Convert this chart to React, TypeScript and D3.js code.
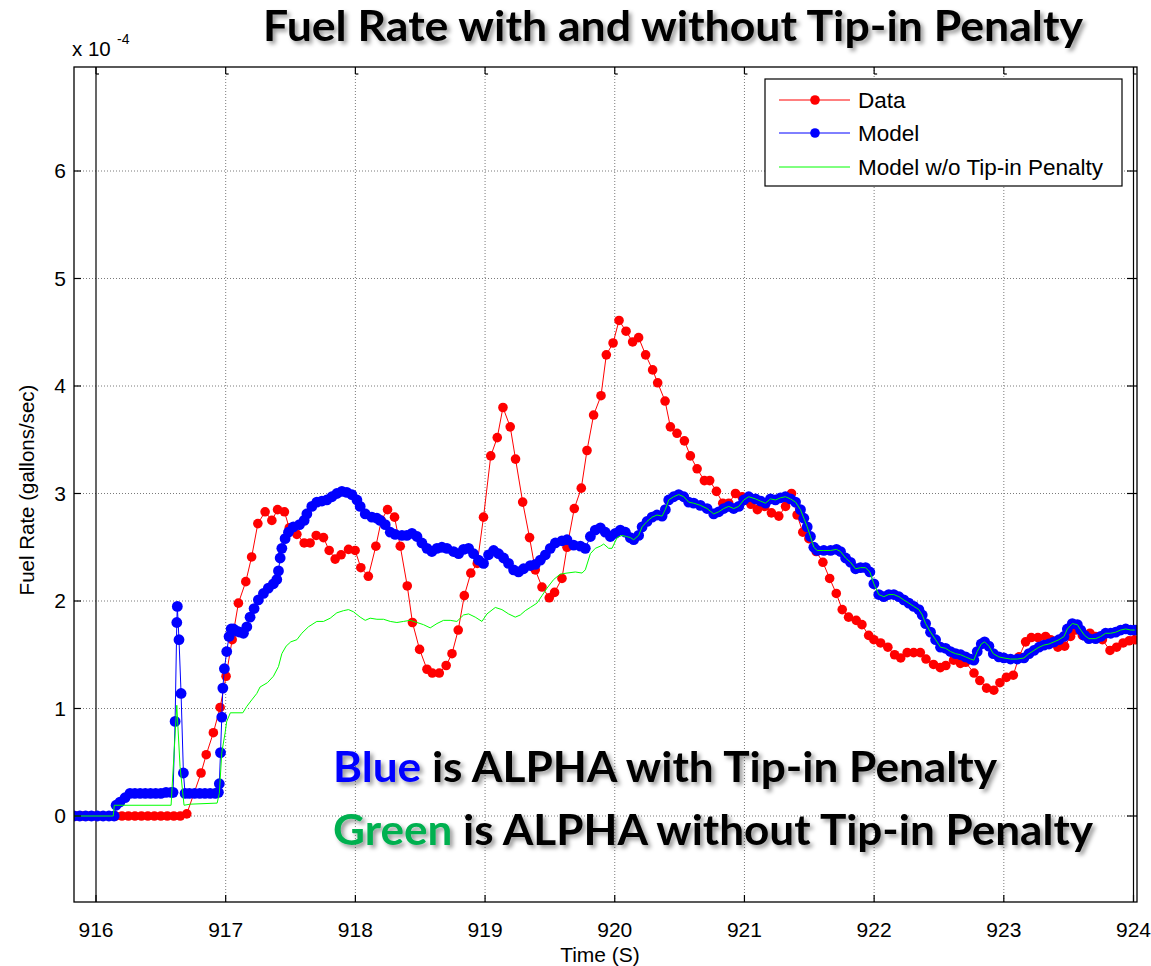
import React from 'react';
import * as d3 from 'd3';

type P = [number, number];

const xTicks = [916, 917, 918, 919, 920, 921, 922, 923, 924];
const yTicks = [0, 1, 2, 3, 4, 5, 6];
const legendLabels = ['Data', 'Model', 'Model w/o Tip-in Penalty'];
const titleText = 'Fuel Rate with and without Tip-in Penalty';

// Measured data (red), values in 1e-4 gallons/sec
const dataSeries: P[] = [
  [915.85, 0], [915.9, 0], [915.95, 0], [916.0, 0], [916.05, 0], [916.1, 0],
  [916.15, 0], [916.2, 0], [916.25, 0], [916.3, 0], [916.35, 0], [916.4, 0], [916.45, 0], [916.5, 0],
  [916.55, 0], [916.6, 0], [916.65, 0], [916.7, 0.02],
  [916.81, 0.4], [916.85, 0.57], [916.905, 0.775], [916.957, 1.01], [917.003, 1.3], [917.05, 1.64],
  [917.098, 1.98], [917.155, 2.18], [917.2, 2.41], [917.248, 2.72], [917.304, 2.83], [917.356, 2.75],
  [917.4, 2.85], [917.453, 2.83], [917.49, 2.68], [917.549, 2.62], [917.605, 2.54], [917.651, 2.54],
  [917.698, 2.61], [917.754, 2.59], [917.798, 2.47], [917.844, 2.39], [917.89, 2.43], [917.947, 2.48],
  [917.998, 2.47], [918.042, 2.31], [918.1, 2.23], [918.158, 2.51], [918.2, 2.75], [918.248, 2.85],
  [918.302, 2.78], [918.346, 2.51], [918.4, 2.14], [918.44, 1.8], [918.495, 1.55], [918.552, 1.365],
  [918.593, 1.33], [918.647, 1.33], [918.7, 1.4], [918.745, 1.51], [918.793, 1.73], [918.84, 2.05],
  [918.89, 2.26], [918.94, 2.35], [918.988, 2.78], [919.044, 3.35], [919.094, 3.52], [919.138, 3.8],
  [919.194, 3.62], [919.235, 3.32], [919.29, 2.92], [919.343, 2.59], [919.387, 2.29], [919.439, 2.13],
  [919.495, 2.03], [919.536, 2.08], [919.593, 2.21], [919.632, 2.5], [919.688, 2.86], [919.742, 3.05],
  [919.786, 3.4], [919.837, 3.73], [919.894, 3.91], [919.935, 4.29], [919.987, 4.4], [920.033, 4.61],
  [920.087, 4.51], [920.138, 4.41], [920.184, 4.45], [920.238, 4.29], [920.292, 4.15], [920.331, 4.03],
  [920.388, 3.86], [920.429, 3.62], [920.48, 3.56], [920.537, 3.49], [920.583, 3.35], [920.635, 3.23],
  [920.691, 3.12], [920.732, 3.12], [920.784, 3.02], [920.833, 2.91], [920.879, 2.91], [920.931, 3.0],
  [920.982, 2.97], [921.05, 2.9], [921.1, 2.85], [921.157, 2.88], [921.208, 2.82], [921.265, 2.79],
  [921.317, 2.88], [921.363, 3.0], [921.406, 2.8], [921.45, 2.64], [921.497, 2.58], [921.553, 2.46],
  [921.605, 2.36], [921.657, 2.21], [921.708, 2.07], [921.754, 1.92], [921.803, 1.85], [921.862, 1.82],
  [921.906, 1.78], [921.958, 1.68], [921.998, 1.64], [922.05, 1.61], [922.106, 1.57], [922.158, 1.5],
  [922.205, 1.47], [922.255, 1.52], [922.305, 1.52], [922.356, 1.52], [922.4, 1.46], [922.458, 1.41],
  [922.51, 1.38], [922.553, 1.4], [922.613, 1.45], [922.665, 1.42], [922.705, 1.43], [922.77, 1.33],
  [922.815, 1.26], [922.867, 1.19], [922.923, 1.17], [922.97, 1.24], [923.02, 1.29], [923.073, 1.31],
  [923.117, 1.48], [923.168, 1.62], [923.212, 1.66], [923.263, 1.66], [923.322, 1.67], [923.361, 1.64],
  [923.417, 1.57], [923.469, 1.58], [923.515, 1.67], [923.554, 1.73], [923.606, 1.68], [923.664, 1.7],
  [923.708, 1.67], [923.76, 1.64], [923.819, 1.54], [923.87, 1.57], [923.92, 1.61], [923.966, 1.63],
  [924.01, 1.64],
];

// Model with tip-in penalty (blue)
const modelSeries: P[] = [
  [915.83, 0], [915.875, 0], [915.92, 0], [915.965, 0], [916.01, 0], [916.055, 0], [916.1, 0], [916.14, 0],
  [916.155, 0.1], [916.185, 0.13], [916.224, 0.17], [916.262, 0.21], [916.3, 0.21], [916.34, 0.21],
  [916.38, 0.21], [916.42, 0.21], [916.46, 0.21], [916.5, 0.21], [916.54, 0.22], [916.58, 0.22],
  [916.594, 0.22], [916.61, 0.88], [916.623, 1.8], [916.627, 1.95], [916.64, 1.64], [916.656, 1.14],
  [916.674, 0.4], [916.687, 0.21], [916.72, 0.21], [916.76, 0.21], [916.8, 0.21], [916.84, 0.21],
  [916.88, 0.21], [916.92, 0.21], [916.944, 0.22], [916.951, 0.3], [916.96, 0.59], [916.97, 0.92],
  [916.978, 1.19], [916.99, 1.37], [917.008, 1.53], [917.026, 1.67], [917.042, 1.74], [917.06, 1.74],
  [917.086, 1.72], [917.11, 1.71], [917.137, 1.7], [917.163, 1.76], [917.188, 1.85], [917.219, 1.93],
  [917.252, 2.01], [917.291, 2.07], [917.329, 2.12], [917.368, 2.16], [917.394, 2.2], [917.407, 2.28],
  [917.42, 2.4], [917.433, 2.49], [917.458, 2.58], [917.484, 2.64], [917.522, 2.69], [917.569, 2.71],
  [917.605, 2.75], [917.626, 2.81], [917.664, 2.88], [917.703, 2.92], [917.742, 2.93], [917.78, 2.94],
  [917.819, 2.97], [917.857, 3.0], [917.896, 3.02], [917.934, 3.01], [917.973, 2.99], [918.012, 2.94],
  [918.037, 2.88], [918.076, 2.81], [918.127, 2.78], [918.166, 2.77], [918.191, 2.75], [918.23, 2.71],
  [918.269, 2.64], [918.307, 2.62], [918.359, 2.61], [918.397, 2.61], [918.436, 2.63], [918.475, 2.6],
  [918.513, 2.54], [918.552, 2.49], [918.59, 2.46], [918.629, 2.49], [918.667, 2.5], [918.706, 2.49],
  [918.757, 2.46], [918.796, 2.44], [918.834, 2.48], [918.873, 2.49], [918.911, 2.44], [918.95, 2.38],
  [918.988, 2.35], [919.027, 2.43], [919.066, 2.47], [919.104, 2.44], [919.143, 2.4], [919.181, 2.35],
  [919.22, 2.29], [919.258, 2.27], [919.297, 2.3], [919.349, 2.33], [919.387, 2.34], [919.426, 2.38],
  [919.465, 2.43], [919.503, 2.49], [919.542, 2.54], [919.593, 2.56], [919.632, 2.57], [919.683, 2.52],
  [919.735, 2.51], [919.773, 2.49], [919.812, 2.6], [919.85, 2.66], [919.889, 2.68], [919.927, 2.64],
  [919.966, 2.6], [920.005, 2.63], [920.043, 2.66], [920.082, 2.64], [920.12, 2.59], [920.146, 2.57],
  [920.184, 2.61], [920.211, 2.69], [920.249, 2.74], [920.288, 2.78], [920.326, 2.8], [920.365, 2.79],
  [920.39, 2.85], [920.416, 2.94], [920.454, 2.97], [920.493, 2.99], [920.532, 2.97], [920.57, 2.92],
  [920.609, 2.91], [920.66, 2.89], [920.712, 2.86], [920.763, 2.81], [920.802, 2.83], [920.84, 2.86],
  [920.879, 2.88], [920.917, 2.86], [920.956, 2.88], [920.995, 2.94], [921.033, 2.97], [921.085, 2.95],
  [921.123, 2.93], [921.162, 2.91], [921.201, 2.95], [921.239, 2.94], [921.278, 2.96], [921.316, 2.97],
  [921.355, 2.95], [921.394, 2.92], [921.432, 2.85], [921.458, 2.77], [921.484, 2.69], [921.509, 2.6],
  [921.535, 2.5], [921.561, 2.47], [921.612, 2.47], [921.664, 2.47], [921.71, 2.48], [921.741, 2.46],
  [921.78, 2.4], [921.818, 2.36], [921.857, 2.3], [921.895, 2.31], [921.934, 2.31], [921.967, 2.27],
  [921.998, 2.16], [922.036, 2.06], [922.075, 2.04], [922.113, 2.06], [922.152, 2.06], [922.191, 2.04],
  [922.229, 2.01], [922.268, 1.98], [922.306, 1.95], [922.345, 1.92], [922.371, 1.87], [922.397, 1.79],
  [922.435, 1.71], [922.474, 1.64], [922.512, 1.57], [922.551, 1.56], [922.589, 1.53], [922.628, 1.51],
  [922.667, 1.5], [922.705, 1.48], [922.744, 1.46], [922.769, 1.45], [922.795, 1.53], [922.826, 1.6],
  [922.852, 1.62], [922.885, 1.58], [922.919, 1.51], [922.962, 1.48], [923.001, 1.47], [923.052, 1.46],
  [923.104, 1.46], [923.155, 1.47], [923.194, 1.51], [923.232, 1.54], [923.271, 1.57], [923.309, 1.59],
  [923.348, 1.6], [923.387, 1.62], [923.425, 1.64], [923.464, 1.67], [923.49, 1.74], [923.528, 1.79],
  [923.567, 1.78], [923.593, 1.73], [923.623, 1.68], [923.656, 1.65], [923.708, 1.65], [923.747, 1.67],
  [923.785, 1.7], [923.824, 1.7], [923.863, 1.71], [923.901, 1.73], [923.94, 1.74], [923.978, 1.73],
  [924.01, 1.73],
];

// Model without tip-in penalty (green); after ~920.1 s it coincides with the blue model
const noPenaltyEarly: P[] = [
  [915.83, 0], [916.133, 0], [916.141, 0.1], [916.579, 0.1], [916.623, 1.03], [916.648, 0.46],
  [916.679, 0.1], [916.725, 0.11], [916.934, 0.12], [916.951, 0.21], [916.97, 0.59], [916.995, 0.77],
  [917.008, 0.88], [917.036, 0.96], [917.132, 0.96], [917.163, 1.02], [917.201, 1.08], [917.24, 1.14],
  [917.265, 1.2], [917.322, 1.24], [917.368, 1.3], [917.407, 1.39], [917.433, 1.51], [917.466, 1.58],
  [917.502, 1.62], [917.549, 1.64], [917.587, 1.7], [917.638, 1.76], [917.703, 1.81], [917.754, 1.81],
  [917.806, 1.84], [917.857, 1.89], [917.908, 1.91], [917.947, 1.92], [917.985, 1.9], [918.037, 1.85],
  [918.076, 1.82], [918.114, 1.84], [918.166, 1.83], [918.217, 1.83], [918.269, 1.81], [918.32, 1.8],
  [918.371, 1.81], [918.423, 1.82], [918.475, 1.8], [918.525, 1.78], [918.577, 1.75], [918.629, 1.79],
  [918.68, 1.82], [918.731, 1.82], [918.783, 1.81], [918.834, 1.87], [918.873, 1.88], [918.924, 1.85],
  [918.976, 1.81], [919.015, 1.88], [919.079, 1.94], [919.13, 1.92], [919.181, 1.88], [919.233, 1.85],
  [919.272, 1.87], [919.31, 1.91], [919.349, 1.94], [919.4, 1.98], [919.439, 2.05], [919.478, 2.12],
  [919.529, 2.2], [919.58, 2.25], [919.632, 2.26], [919.696, 2.27], [919.748, 2.26], [919.773, 2.29],
  [919.812, 2.44], [919.85, 2.49], [919.889, 2.51], [919.915, 2.53], [919.953, 2.49], [919.979, 2.49],
  [920.018, 2.59], [920.056, 2.61], [920.09, 2.6],
];
const noPenaltySeries: P[] = [...noPenaltyEarly, ...modelSeries.filter((d) => d[0] >= 920.12)];

const RED = '#ff0000';
const BLUE = '#0000ff';
const LIME = '#00ff00';
const SANS = '"Liberation Sans", Arial, sans-serif';
const BOLD = 'Lato, "Open Sans", sans-serif';

export default function App() {
  const W = 1151;
  const H = 966;
  const box = { left: 74, right: 1137, top: 67, bottom: 902 };
  const x = d3.scaleLinear().domain([916, 924]).range([96, 1133.5]);
  const y = d3.scaleLinear().domain([0, 6]).range([816, 171]);
  const line = d3
    .line<P>()
    .x((d) => x(d[0]))
    .y((d) => y(d[1]));
  const rRed = 4.8;
  const rBlue = 5.4;

  const legend = { x: 765, y: 79, w: 357, h: 107 };
  const legendRows = [
    { label: legendLabels[0], color: RED, marker: true, yy: 100 },
    { label: legendLabels[1], color: BLUE, marker: true, yy: 133 },
    { label: legendLabels[2], color: LIME, marker: false, yy: 167 },
  ];

  return (
    <svg
      width={W}
      height={H}
      style={{ position: 'absolute', left: 0, top: 0, background: '#fff' }}
      xmlns="http://www.w3.org/2000/svg"
    >
      <defs>
        <clipPath id="plotClip">
          <rect x={box.left} y={box.top} width={box.right - box.left} height={box.bottom - box.top} />
        </clipPath>
        <filter id="shadow" x="-5%" y="-30%" width="110%" height="170%">
          <feDropShadow dx="3" dy="3" stdDeviation="2" floodColor="#000" floodOpacity="0.4" />
        </filter>
      </defs>
      <rect x={0} y={0} width={W} height={H} fill="#fff" />

      {/* grid */}
      <g stroke="#7a7a7a" strokeWidth={1} strokeDasharray="1,2">
        {xTicks.slice(1, -1).map((t) => (
          <line key={'gx' + t} x1={x(t)} x2={x(t)} y1={box.top} y2={box.bottom} />
        ))}
        {yTicks.map((t) => (
          <line key={'gy' + t} x1={box.left} x2={box.right} y1={y(t)} y2={y(t)} />
        ))}
      </g>

      {/* inner axes lines at 916 and 924 */}
      <line x1={x(916)} x2={x(916)} y1={box.top} y2={box.bottom} stroke="#000" strokeWidth={1.2} />
      <line x1={x(924)} x2={x(924)} y1={box.top} y2={box.bottom} stroke="#000" strokeWidth={1.2} />

      {/* series: data, model, model w/o penalty (drawn in that order) */}
      <g clipPath="url(#plotClip)">
        <path d={line(dataSeries) || ''} fill="none" stroke={RED} strokeWidth={1} />
        {dataSeries.map((d, i) => (
          <circle key={'d' + i} cx={x(d[0])} cy={y(d[1])} r={rRed} fill={RED} />
        ))}
        <path d={line(modelSeries) || ''} fill="none" stroke={BLUE} strokeWidth={1} />
        {modelSeries.map((d, i) => (
          <circle key={'m' + i} cx={x(d[0])} cy={y(d[1])} r={rBlue} fill={BLUE} />
        ))}
        <path d={line(noPenaltySeries) || ''} fill="none" stroke={LIME} strokeWidth={1} />
      </g>

      {/* box */}
      <rect
        x={box.left}
        y={box.top}
        width={box.right - box.left}
        height={box.bottom - box.top}
        fill="none"
        stroke="#000"
        strokeWidth={1.3}
      />

      {/* tick marks */}
      <g stroke="#000" strokeWidth={1.2}>
        {xTicks.map((t) => (
          <g key={'tx' + t}>
            <line x1={x(t)} x2={x(t)} y1={box.top} y2={box.top + 7} />
            <line x1={x(t)} x2={x(t) + 3} y1={box.top + 7} y2={box.top + 7} />
            <line x1={x(t)} x2={x(t)} y1={box.bottom} y2={box.bottom - 7} />
          </g>
        ))}
        {yTicks.map((t) => (
          <g key={'ty' + t}>
            <line x1={box.left} x2={box.left + 7} y1={y(t)} y2={y(t)} />
            <line x1={box.right} x2={box.right - 10} y1={y(t)} y2={y(t)} />
          </g>
        ))}
      </g>

      {/* tick labels */}
      <g fontFamily={SANS} fontSize={21} fill="#000">
        {xTicks.map((t) => (
          <text key={'lx' + t} x={x(t)} y={937} textAnchor="middle">
            {t}
          </text>
        ))}
        {yTicks.map((t) => (
          <text key={'ly' + t} x={66} y={y(t) + 7} textAnchor="end">
            {t}
          </text>
        ))}
      </g>

      {/* exponent */}
      <text x={72} y={56} fontFamily={SANS} fontSize={20.5} fill="#000">
        x 10
      </text>
      <text x={117} y={44} fontFamily={SANS} fontSize={14} fill="#000">
        -4
      </text>

      {/* axis labels */}
      <text x={600} y={962} textAnchor="middle" fontFamily={SANS} fontSize={21} fill="#000">
        Time (S)
      </text>
      <text
        transform="translate(34,490) rotate(-90)"
        textAnchor="middle"
        fontFamily={SANS}
        fontSize={20.5}
        fill="#000"
      >
        Fuel Rate (gallons/sec)
      </text>

      {/* legend */}
      <rect x={legend.x} y={legend.y} width={legend.w} height={legend.h} fill="#fff" stroke="#000" strokeWidth={1.2} />
      {legendRows.map((row) => (
        <g key={row.label}>
          <line x1={779} x2={850} y1={row.yy} y2={row.yy} stroke={row.color} strokeWidth={1} />
          {row.marker && <circle cx={815} cy={row.yy} r={rRed} fill={row.color} />}
          <text x={858} y={row.yy + 7.5} fontFamily={SANS} fontSize={22.5} fill="#000">
            {row.label}
          </text>
        </g>
      ))}

      {/* title */}
      <text
        x={263}
        y={41}
        fontFamily={BOLD}
        fontWeight={700}
        fontSize={42}
        textLength={820}
        lengthAdjust="spacingAndGlyphs"
        fill="#000"
        filter="url(#shadow)"
      >
        {titleText}
      </text>

      {/* annotations */}
      <text
        x={333}
        y={782}
        fontFamily={BOLD}
        fontWeight={700}
        fontSize={42}
        textLength={664}
        lengthAdjust="spacingAndGlyphs"
        fill="#000"
        filter="url(#shadow)"
      >
        <tspan fill={BLUE}>Blue</tspan>
        <tspan> is ALPHA with Tip-in Penalty</tspan>
      </text>
      <text
        x={333}
        y={845}
        fontFamily={BOLD}
        fontWeight={700}
        fontSize={42}
        textLength={760}
        lengthAdjust="spacingAndGlyphs"
        fill="#000"
        filter="url(#shadow)"
      >
        <tspan fill="#00b050">Green</tspan>
        <tspan> is ALPHA without Tip-in Penalty</tspan>
      </text>
    </svg>
  );
}
